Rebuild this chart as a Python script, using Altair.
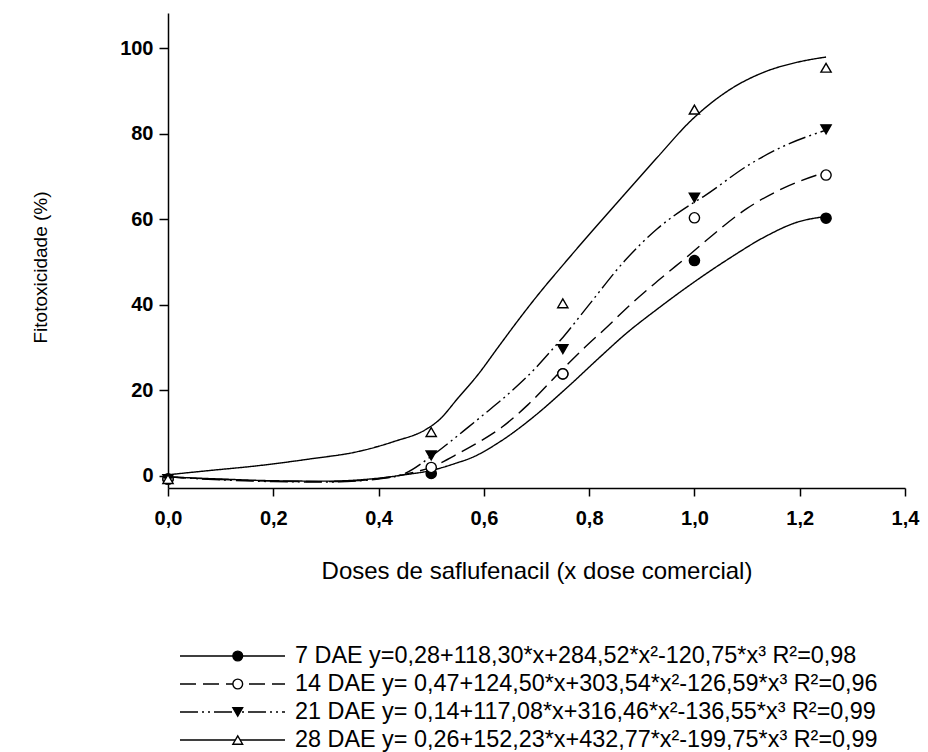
import altair as alt
import pandas as pd

SERIES = ["7 DAE", "14 DAE", "21 DAE", "28 DAE"]
LABELS = [
    "7 DAE y=0,28+118,30*x+284,52*x²-120,75*x³ R²=0,98",
    "14 DAE y= 0,47+124,50*x+303,54*x²-126,59*x³  R²=0,96",
    "21 DAE y= 0,14+117,08*x+316,46*x²-136,55*x³ R²=0,99",
    "28 DAE y= 0,26+152,23*x+432,77*x²-199,75*x³ R²=0,99",
]

# observed points
DOSES = [0.0, 0.5, 0.75, 1.0, 1.25]
OBS_7 = [-0.8, 0.5, 23.8, 50.3, 60.2]
OBS_14 = [-0.8, 1.9, 23.8, 60.3, 70.3]
OBS_21 = [-0.8, 4.7, 29.6, 65.0, 81.0]
OBS_28 = [-0.8, 10.2, 40.3, 85.6, 95.4]

# fitted curves
FIT_X_7 = [0.0, 0.1, 0.2, 0.3, 0.4, 0.45, 0.5, 0.552, 0.571, 0.634, 0.697, 0.76, 0.823, 0.868, 0.93, 0.994, 1.07, 1.133, 1.196, 1.25]
FIT_Y_7 = [-0.3, -0.8, -1.2, -1.3, -0.6, 0.2, 1.2, 3.1, 3.9, 8.2, 14.0, 20.8, 28.0, 33.0, 39.0, 44.8, 51.1, 55.8, 59.3, 60.6]
FIT_X_14 = [0.0, 0.1, 0.2, 0.3, 0.4, 0.45, 0.5, 0.552, 0.571, 0.634, 0.684, 0.745, 0.792, 0.836, 0.868, 0.93, 0.994, 1.032, 1.1, 1.17, 1.25]
FIT_Y_14 = [-0.3, -0.9, -1.3, -1.4, -0.7, 0.3, 2.0, 5.2, 6.5, 11.3, 16.6, 24.3, 30.0, 35.0, 38.8, 45.5, 52.0, 56.0, 62.5, 67.3, 71.0]
FIT_X_21 = [0.0, 0.1, 0.2, 0.3, 0.4, 0.45, 0.5, 0.539, 0.571, 0.602, 0.653, 0.697, 0.7255, 0.75, 0.8, 0.868, 0.93, 0.994, 1.02, 1.101, 1.165, 1.25]
FIT_Y_21 = [-0.3, -1.0, -1.4, -1.5, -0.8, 0.5, 4.5, 8.2, 11.4, 14.5, 19.8, 25.0, 28.9, 32.3, 40.0, 50.3, 57.8, 63.5, 65.5, 72.5, 76.8, 80.8]
FIT_X_28 = [0.0, 0.08, 0.17, 0.27, 0.36, 0.43, 0.49, 0.514, 0.552, 0.59, 0.627, 0.665, 0.703, 0.754, 0.81, 0.868, 0.93, 0.994, 1.07, 1.133, 1.196, 1.25]
FIT_Y_28 = [0.2, 1.2, 2.3, 3.9, 5.6, 8.0, 10.8, 12.9, 18.3, 23.8, 30.0, 36.3, 42.3, 49.8, 57.8, 65.9, 74.5, 83.1, 90.5, 94.4, 96.7, 97.9]

X_TICKS = [0.0, 0.2, 0.4, 0.6, 0.8, 1.0, 1.2, 1.4]
Y_TICKS = [0, 20, 40, 60, 80, 100]

obs = []
for s, vals in zip(SERIES, [OBS_7, OBS_14, OBS_21, OBS_28]):
    for d, v in zip(DOSES, vals):
        obs.append({"series": s, "x": d, "y": v})
obs_df = pd.DataFrame(obs)

fit = []
for s, xs_, ys_ in zip(SERIES, [FIT_X_7, FIT_X_14, FIT_X_21, FIT_X_28],
                       [FIT_Y_7, FIT_Y_14, FIT_Y_21, FIT_Y_28]):
    for i, (a, b) in enumerate(zip(xs_, ys_)):
        fit.append({"series": s, "x": a, "y": b, "i": i})
fit_df = pd.DataFrame(fit)

leg_line_df = pd.DataFrame([{"series": s, "lx": v} for s in SERIES for v in (0.0, 1.0)])
leg_pt_df = pd.DataFrame([{"series": s, "lx": 0.55} for s in SERIES])
leg_txt_df = pd.DataFrame([{"series": s, "lx": 1.0, "label": l} for s, l in zip(SERIES, LABELS)])

xscale = alt.Scale(domain=[0, 1.4], nice=False, zero=False)
yscale = alt.Scale(domain=[-2.9, 108.2], nice=False, zero=False)
dash_scale = alt.Scale(domain=SERIES, range=[[1, 0], [16, 7], [18, 4, 2, 4, 2, 4], [1, 0]])
shape_scale = alt.Scale(domain=SERIES, range=["circle", "circle", "triangle-down", "triangle-up"])
fill_scale = alt.Scale(domain=SERIES, range=["#000000", "#ffffff", "#000000", "#ffffff"])
lx_scale = alt.Scale(domain=[0, 1], range=[12, 117])
ly_scale = alt.Scale(type="point", domain=SERIES, range=[643, 727], padding=0)

xaxis = alt.Axis(
    values=X_TICKS,
    labelExpr="replace(format(datum.value, '.1f'), '.', ',')",
    title="Doses de saflufenacil (x dose comercial)",
    titleFontSize=24, titleFontWeight="normal",
    titleBaseline="alphabetic", titleY=90,
    grid=False, tickSize=8, labelFontSize=20, labelFontWeight="bold",
    labelPadding=12, labelFlush=False, labelOverlap=False,
)
yaxis = alt.Axis(
    values=Y_TICKS,
    title="Fitotoxicidade (%)",
    titleFontSize=19, titleFontWeight="normal",
    titleX=-118, titleY=254,
    grid=False, tickSize=9, labelFontSize=20, labelFontWeight="bold",
    labelPadding=6, labelFlush=False,
)

lines = alt.Chart(fit_df).mark_line(color="black", strokeWidth=1.4, interpolate="monotone").encode(
    x=alt.X("x:Q", scale=xscale, axis=xaxis),
    y=alt.Y("y:Q", scale=yscale, axis=yaxis),
    strokeDash=alt.StrokeDash("series:N", scale=dash_scale, legend=None),
    detail="series:N",
    order="i:Q",
)

points = alt.Chart(obs_df).mark_point(filled=True, stroke="black", strokeWidth=1.4, size=105, opacity=1).encode(
    x=alt.X("x:Q", scale=xscale),
    y=alt.Y("y:Q", scale=yscale),
    shape=alt.Shape("series:N", scale=shape_scale, legend=None),
    fill=alt.Fill("series:N", scale=fill_scale, legend=None),
)

leg_lines = alt.Chart(leg_line_df).mark_line(color="black", strokeWidth=1.4).encode(
    x=alt.X("lx:Q", scale=lx_scale, axis=None),
    y=alt.Y("series:N", scale=ly_scale, axis=None),
    strokeDash=alt.StrokeDash("series:N", scale=dash_scale, legend=None),
    detail="series:N",
)
leg_pts = alt.Chart(leg_pt_df).mark_point(filled=True, stroke="black", strokeWidth=1.4, size=95, opacity=1).encode(
    x=alt.X("lx:Q", scale=lx_scale, axis=None),
    y=alt.Y("series:N", scale=ly_scale, axis=None),
    shape=alt.Shape("series:N", scale=shape_scale, legend=None),
    fill=alt.Fill("series:N", scale=fill_scale, legend=None),
)
leg_txt = alt.Chart(leg_txt_df).mark_text(align="left", baseline="middle", dx=10, fontSize=23.4,
                                           font="Liberation Sans", color="black").encode(
    x=alt.X("lx:Q", scale=lx_scale, axis=None),
    y=alt.Y("series:N", scale=ly_scale, axis=None),
    text="label:N",
)

main = alt.layer(lines, points)
legend = alt.layer(leg_lines, leg_pts, leg_txt)

chart = alt.layer(main, legend).resolve_scale(
    x="independent", y="independent"
).properties(
    width=737, height=475,
    autosize=alt.AutoSizeParams(type="none"),
    padding={"left": 160, "top": 5, "right": 15, "bottom": 264},
).configure(
    font="Liberation Sans",
).configure_view(
    stroke=None,
).configure_axis(
    labelColor="black", titleColor="black", domainColor="black", tickColor="black",
    domainWidth=1.5, tickWidth=1.5, labelFont="Liberation Sans", titleFont="Liberation Sans",
)

chart.save("out.html", embed_options={"renderer": "svg", "actions": False})
